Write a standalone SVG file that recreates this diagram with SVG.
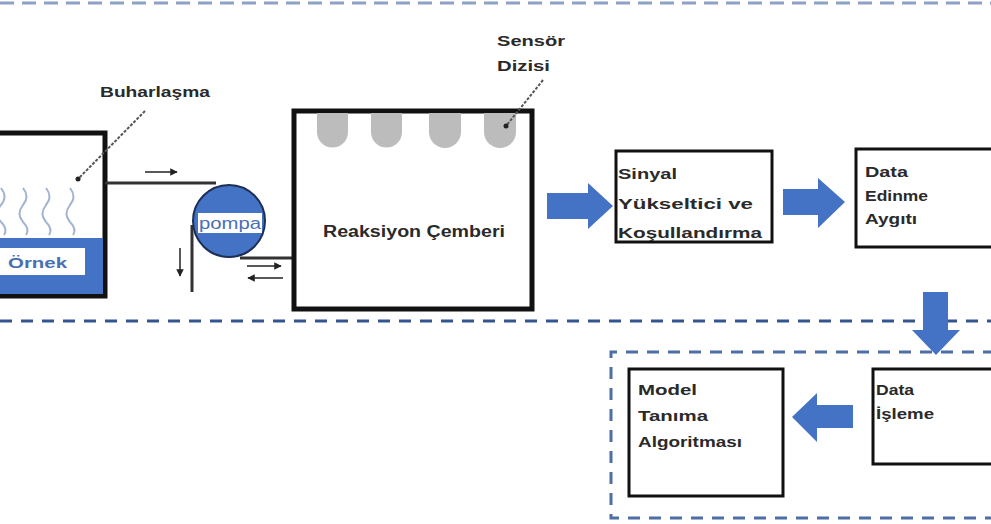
<svg xmlns="http://www.w3.org/2000/svg" width="991" height="524" viewBox="0 0 991 524">
<style>
.t{font-family:"Liberation Sans",Arial,sans-serif;font-weight:bold;font-size:15px;fill:#2a2a2a}
.box{fill:#fff;stroke:#111;stroke-width:3}
.thick{fill:#fff;stroke:#111;stroke-width:5}
.blue{fill:#4472c4}
.sen{fill:#bcbcbc}
.steam{fill:none;stroke:#a3b3d3;stroke-width:2}
.pipe{fill:none;stroke:#333;stroke-width:3}
.small{fill:none;stroke:#222;stroke-width:1.5}
.lead{fill:none;stroke:#555;stroke-width:2;stroke-dasharray:3 1.5}
</style>
<defs>
<marker id="ah" viewBox="0 0 10 10" refX="9" refY="5" markerWidth="5" markerHeight="5" orient="auto"><path d="M0,0 L10,5 L0,10 z" fill="#222"/></marker>
</defs>
<rect width="991" height="524" fill="#fff"/>
<g id="frames">
<line x1="0" y1="3" x2="991" y2="3" stroke="#8da1c6" stroke-width="3" stroke-dasharray="14 8"/>
<line x1="0" y1="321" x2="991" y2="321" stroke="#34558f" stroke-width="3" stroke-dasharray="12 9"/>
<path d="M995,352 L611,352 L611,518 L995,518" fill="none" stroke="#4e6ea6" stroke-width="3" stroke-dasharray="12 9"/>
</g>
<g id="sample">
<rect class="thick" x="-10" y="133" width="115" height="163"/>
<rect class="blue" x="0" y="238" width="103" height="56"/>
<rect x="0" y="248" width="85" height="27" fill="#fff"/>
<text class="t" x="8" y="268" textLength="59" lengthAdjust="spacingAndGlyphs" style="fill:#4a6fb5">Örnek</text>
<path class="steam" d="M1,188 q7,9 0,17 q-7,9 0,17 q7,7 3,13"/>
<path class="steam" d="M23,188 q7,9 0,17 q-7,9 0,17 q7,7 3,13"/>
<path class="steam" d="M46,188 q7,9 0,17 q-7,9 0,17 q7,7 3,13"/>
<path class="steam" d="M70,188 q7,9 0,17 q-7,9 0,17 q7,7 3,13"/>
</g>
<g id="buharlasma">
<text class="t" x="100" y="97" textLength="110" lengthAdjust="spacingAndGlyphs">Buharlaşma</text>
<line class="lead" x1="145" y1="111" x2="78" y2="179"/>
<circle cx="78" cy="179" r="2.5" fill="#222"/>
</g>
<g id="connectors">
<path class="pipe" d="M105,183 L216,183"/>
<path class="pipe" d="M192,225 L192,292"/>
<path class="pipe" d="M240,258 L293,258"/>
<line class="small" x1="145" y1="172" x2="177" y2="172" marker-end="url(#ah)"/>
<line class="small" x1="180" y1="248" x2="180" y2="276" marker-end="url(#ah)"/>
<line class="small" x1="247" y1="266" x2="281" y2="266" marker-end="url(#ah)"/>
<line class="small" x1="283" y1="278" x2="248" y2="278" marker-end="url(#ah)"/>
<path class="blue" d="M547,193 L588,193 L588,183 L613,206 L588,229 L588,219 L547,219 z"/>
<path class="blue" d="M783,189 L818,189 L818,178 L845,202 L818,228 L818,215 L783,215 z"/>
<path class="blue" d="M923,292 L948,292 L948,330 L960,330 L936,355 L912,330 L923,330 z"/>
<path class="blue" d="M853,405 L817,405 L817,393 L792,417 L817,442 L817,428 L853,428 z"/>
</g>
<g id="pump">
<circle cx="229" cy="221" r="36" fill="#4472c4" stroke="#1d2f57" stroke-width="2"/>
<rect x="198" y="213" width="64" height="20" fill="#fff"/>
<text x="199" y="229" textLength="62" lengthAdjust="spacingAndGlyphs" style="font-family:'Liberation Sans',Arial,sans-serif;font-size:16px;fill:#4a6fb5">pompa</text>
</g>
<g id="reaction">
<rect class="thick" x="294" y="111" width="238" height="198"/>
<path class="sen" d="M317,113 h31 v19 a15.5,15.5 0 0 1 -31,0 z"/>
<path class="sen" d="M371,113 h31 v19 a15.5,15.5 0 0 1 -31,0 z"/>
<path class="sen" d="M429,113 h32 v19 a16,16 0 0 1 -32,0 z"/>
<path class="sen" d="M484,113 h32 v19 a16,16 0 0 1 -32,0 z"/>
<text class="t" x="323" y="237" textLength="182" lengthAdjust="spacingAndGlyphs" style="font-size:16px">Reaksiyon Çemberi</text>
</g>
<g id="sensor">
<text class="t" x="497" y="46" textLength="68" lengthAdjust="spacingAndGlyphs">Sensör</text>
<text class="t" x="497" y="71" textLength="53" lengthAdjust="spacingAndGlyphs">Dizisi</text>
<line class="lead" x1="543" y1="80" x2="506" y2="126"/>
<circle cx="506" cy="126" r="2.5" fill="#222"/>
</g>
<g id="signal">
<rect class="box" x="616" y="151" width="156" height="91"/>
<text class="t" x="618" y="179" textLength="59" lengthAdjust="spacingAndGlyphs">Sinyal</text>
<text class="t" x="618" y="209" textLength="135" lengthAdjust="spacingAndGlyphs">Yükseltici ve</text>
<text class="t" x="618" y="238" textLength="144" lengthAdjust="spacingAndGlyphs">Koşullandırma</text>
</g>
<g id="daq">
<rect class="box" x="856" y="149" width="150" height="98"/>
<text class="t" x="865" y="177" textLength="43" lengthAdjust="spacingAndGlyphs">Data</text>
<text class="t" x="865" y="201" textLength="63" lengthAdjust="spacingAndGlyphs">Edinme</text>
<text class="t" x="865" y="224" textLength="52" lengthAdjust="spacingAndGlyphs">Aygıtı</text>
</g>
<g id="processing">
<rect class="box" x="873" y="369" width="130" height="95"/>
<text class="t" x="876" y="395" textLength="38" lengthAdjust="spacingAndGlyphs">Data</text>
<text class="t" x="876" y="419" textLength="58" lengthAdjust="spacingAndGlyphs">İşleme</text>
</g>
<g id="model">
<rect class="box" x="629" y="369" width="154" height="127"/>
<text class="t" x="638" y="395" textLength="59" lengthAdjust="spacingAndGlyphs">Model</text>
<text class="t" x="638" y="421" textLength="70" lengthAdjust="spacingAndGlyphs">Tanıma</text>
<text class="t" x="638" y="447" textLength="104" lengthAdjust="spacingAndGlyphs">Algoritması</text>
</g>
</svg>
